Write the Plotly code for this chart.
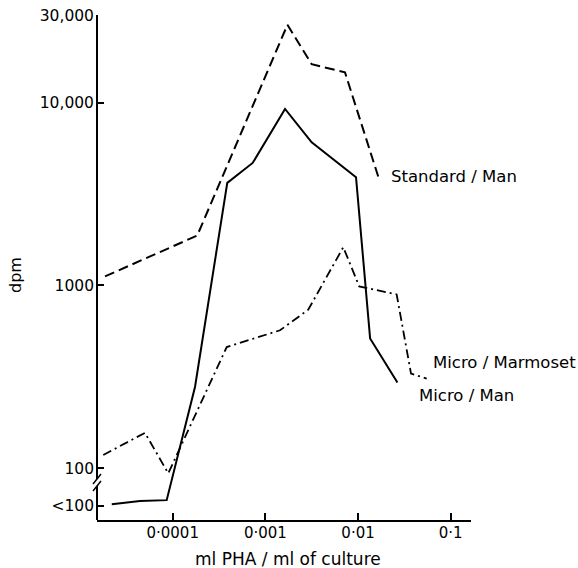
import plotly.graph_objects as go

# ---- data ----
std_man_x = [1.86e-5, 1.84e-4, 1.73e-3, 3.16e-3, 7.23e-3, 1.66e-2]
std_man_y = [1120, 1875, 26700, 16250, 14650, 3910]

micro_man_x = [2.20e-5, 4.44e-5, 8.61e-5, 1.74e-4, 3.88e-4, 7.29e-4, 1.63e-3,
               3.16e-3, 9.51e-3, 1.35e-2, 2.66e-2]
micro_man_y = [63.5, 66, 66.8, 278, 3640, 4680, 9250, 6070, 3910, 512, 294]

micro_marm_x = [1.78e-5, 5.02e-5, 8.95e-5, 3.83e-4, 1.44e-3, 2.90e-3, 6.93e-3,
                1.03e-2, 2.61e-2, 3.73e-2, 5.51e-2]
micro_marm_y = [118, 156, 93.6, 460, 568, 736, 1618, 988, 893, 329, 309]

x_tickvals = [1e-4, 1e-3, 1e-2, 1e-1]
x_ticktext = ["0·0001", "0·001", "0·01", "0·1"]
y_tickvals = [62, 100, 1000, 10000, 30000]
y_ticktext = ["<100", "100", "1000", "10,000", "30,000"]

series_labels = ["Standard / Man", "Micro / Marmoset", "Micro / Man"]
x_title = "ml PHA / ml of culture"
y_title = "dpm"

FONT = "DejaVu Sans"
W, H = 578, 568
L, R, T, B = 97, 107, 15, 48
PW, PH = W - L - R, H - T - B


def px(x):
    return (x - L) / PW


def py(y):
    return (H - B - y) / PH


fig = go.Figure()
fig.add_trace(go.Scatter(x=std_man_x, y=std_man_y, mode="lines",
                         line=dict(color="black", width=2, dash="10px,5px"),
                         cliponaxis=False, showlegend=False))
fig.add_trace(go.Scatter(x=micro_man_x, y=micro_man_y, mode="lines",
                         line=dict(color="black", width=2),
                         cliponaxis=False, showlegend=False))
fig.add_trace(go.Scatter(x=micro_marm_x, y=micro_marm_y, mode="lines",
                         line=dict(color="black", width=1.8, dash="9px,4px,2px,4px"),
                         cliponaxis=False, showlegend=False))

shapes = [
    # y axis drawn in two parts with a break
    dict(type="line", xref="paper", yref="paper", x0=0, x1=0, y0=py(479), y1=1,
         line=dict(color="black", width=2)),
    dict(type="line", xref="paper", yref="paper", x0=0, x1=0, y0=0, y1=py(486),
         line=dict(color="black", width=2)),
    dict(type="line", xref="paper", yref="paper", x0=px(93), x1=px(101),
         y0=py(484), y1=py(474), line=dict(color="black", width=1.5)),
    dict(type="line", xref="paper", yref="paper", x0=px(93), x1=px(101),
         y0=py(491), y1=py(481), line=dict(color="black", width=1.5)),
]

LBL = 16.5
annotations = [
    dict(text=series_labels[0], xref="paper", yref="paper", x=px(389), y=py(177),
         xanchor="left", yanchor="middle", showarrow=False,
         font=dict(family=FONT, size=LBL, color="black")),
    dict(text=series_labels[1], xref="paper", yref="paper", x=px(431), y=py(362),
         xanchor="left", yanchor="middle", showarrow=False,
         font=dict(family=FONT, size=LBL, color="black")),
    dict(text=series_labels[2], xref="paper", yref="paper", x=px(417), y=py(395),
         xanchor="left", yanchor="middle", showarrow=False,
         font=dict(family=FONT, size=LBL, color="black")),
    dict(text=x_title, xref="paper", yref="paper", x=px(288), y=py(559),
         xanchor="center", yanchor="middle", showarrow=False,
         font=dict(family=FONT, size=17, color="black")),
    dict(text=y_title, xref="paper", yref="paper", x=px(15), y=py(275),
         xanchor="center", yanchor="middle", showarrow=False, textangle=-90,
         font=dict(family=FONT, size=16, color="black")),
]

fig.update_layout(
    width=W, height=H, autosize=False,
    margin=dict(l=L, r=R, t=T, b=B),
    paper_bgcolor="white", plot_bgcolor="white",
    font=dict(family=FONT, size=15, color="black"),
    showlegend=False,
    shapes=shapes, annotations=annotations,
    xaxis=dict(type="log", range=[-4.817, -0.781], showgrid=False, zeroline=False,
               showline=True, linecolor="black", linewidth=2,
               ticks="inside", ticklen=7, tickwidth=1.5, tickcolor="black",
               tickvals=x_tickvals, ticktext=x_ticktext, ticklabelstandoff=-2,
               automargin=False,
               tickfont=dict(family=FONT, size=15, color="black")),
    yaxis=dict(type="log", range=[1.716, 4.48], showgrid=False, zeroline=False,
               showline=False, automargin=False,
               ticks="inside", ticklen=7, tickwidth=1.5, tickcolor="black",
               tickvals=y_tickvals, ticktext=y_ticktext, ticklabelstandoff=2,
               tickfont=dict(family=FONT, size=15.5, color="black")),
)

fig.write_html("out.html", config={"displayModeBar": False},
               post_script="document.body.style.margin='0';document.body.style.padding='0';")
